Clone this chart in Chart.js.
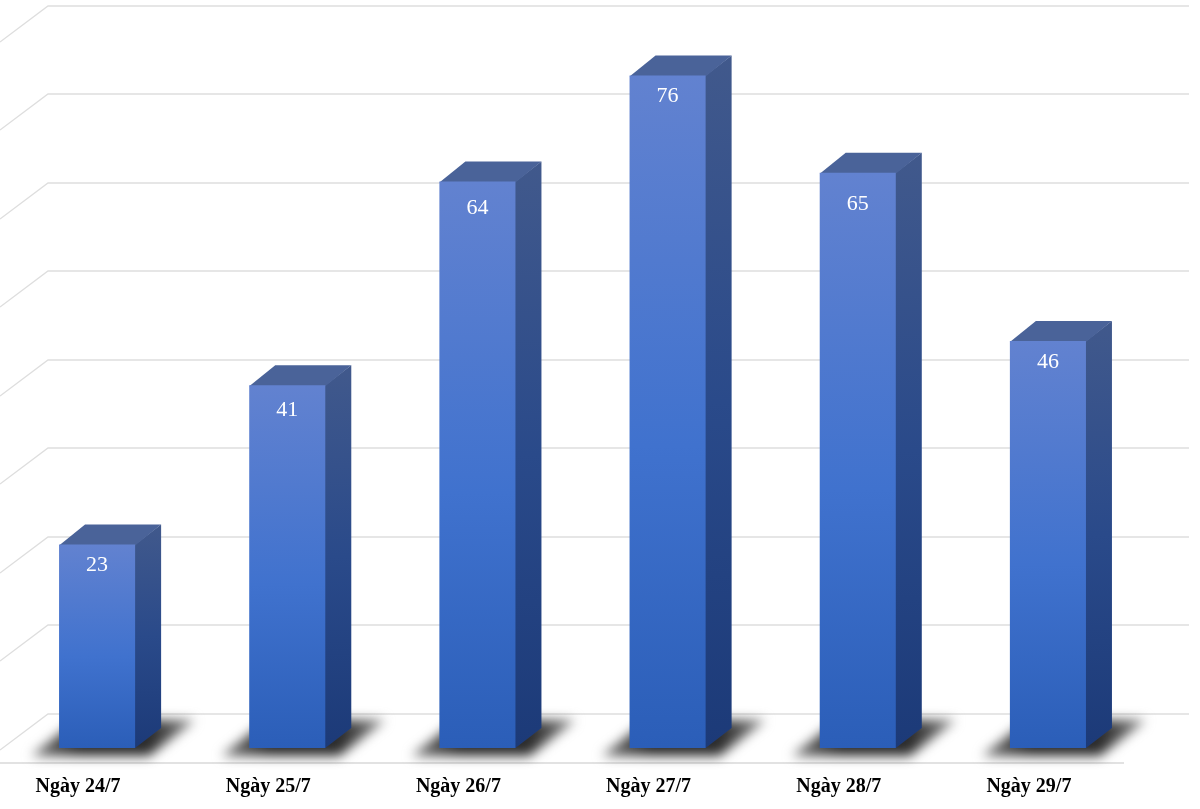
<!DOCTYPE html>
<html>
<head>
<meta charset="utf-8">
<title>Biểu đồ</title>
<script src="https://cdn.jsdelivr.net/npm/chart.js@4"></script>
<style>
    html, body { margin: 0; padding: 0; background: #fff; }
    canvas { display: block; }
</style>
</head>
<body>
<canvas id="chart" width="1200" height="809"></canvas>
<script>
const days = ["Ngày 24/7", "Ngày 25/7", "Ngày 26/7", "Ngày 27/7", "Ngày 28/7", "Ngày 29/7"];
const counts = [23, 41, 64, 76, 65, 46];
const axisMin = 0;
const axisMax = 80;
const axisStep = 10;

// how the fake 3d box sits, in px
const DEPTH_X = 26;
const DEPTH_Y = 20;
const WALL_Y = 34; // back wall is this far above the front of the bars
const labelDrop = [21, 25, 27, 21, 31, 21]; // value label below bar top

const frontFill = (c) => {
    const y = c.chart.scales.y;
    const top = y ? y.getPixelForValue(counts[c.dataIndex]) : NaN;
    const bottom = y ? y.getPixelForValue(0) : NaN;
    // scales have no size yet on the first pass
    if (!Number.isFinite(top) || !Number.isFinite(bottom)) return "#3f70cc";
    const g = c.chart.ctx.createLinearGradient(0, top, 0, bottom);
    g.addColorStop(0, "#6282d0");
    g.addColorStop(0.55, "#4072ce");
    g.addColorStop(1, "#2b5eb8");
    return g;
};

const wallAndBoxes = {
    id: "wallAndBoxes",
    beforeDatasetsDraw(chart) {
        const { ctx } = chart;
        const y = chart.scales.y;
        const bars = chart.getDatasetMeta(0).data;

        // back wall grid with the slanted bit on the left
        ctx.save();
        ctx.strokeStyle = "#dedede";
        ctx.lineWidth = 1.3;
        y.ticks.forEach((t) => {
            const py = Math.floor(y.getPixelForValue(t.value)) - WALL_Y;
            ctx.beginPath();
            ctx.moveTo(0, py + 36);
            ctx.lineTo(48, py);
            ctx.lineTo(1189, py);
            ctx.stroke();
        });
        // front edge of the floor
        ctx.strokeStyle = "#e2e2e2";
        ctx.lineWidth = 2;
        ctx.beginPath();
        ctx.moveTo(0, 763);
        ctx.lineTo(1124, 763);
        ctx.stroke();
        ctx.restore();

        bars.forEach((bar) => {
            const left = bar.x - bar.width / 2;
            const right = bar.x + bar.width / 2;
            const base = bar.base;

            // floor shadow, dark by the bar and fading at both tips
            ctx.save();
            ctx.filter = "blur(6px)";
            const shade = ctx.createLinearGradient(left - 28, 0, right + 60, 0);
            shade.addColorStop(0, "#777");
            shade.addColorStop(0.3, "#2c2c2c");
            shade.addColorStop(0.72, "#2c2c2c");
            shade.addColorStop(1, "#888");
            ctx.fillStyle = shade;
            ctx.beginPath();
            ctx.moveTo(left - 28, base + 8);
            ctx.lineTo(right + 14, base + 8);
            ctx.lineTo(right + 60, base - 28);
            ctx.lineTo(left + 18, base - 28);
            ctx.closePath();
            ctx.fill();
            ctx.restore();

            // right side, tucked a px under the front face
            const side = ctx.createLinearGradient(0, bar.y - DEPTH_Y, 0, base);
            side.addColorStop(0, "#41598c");
            side.addColorStop(0.5, "#2a4a8a");
            side.addColorStop(1, "#1c3a78");
            ctx.fillStyle = side;
            ctx.beginPath();
            ctx.moveTo(right - 1, bar.y);
            ctx.lineTo(right, bar.y);
            ctx.lineTo(right + DEPTH_X, bar.y - DEPTH_Y);
            ctx.lineTo(right + DEPTH_X, base - DEPTH_Y);
            ctx.lineTo(right, base);
            ctx.lineTo(right - 1, base);
            ctx.closePath();
            ctx.fill();

            // top
            ctx.fillStyle = "#4a6399";
            ctx.beginPath();
            ctx.moveTo(left, bar.y + 1);
            ctx.lineTo(left + DEPTH_X, bar.y - DEPTH_Y);
            ctx.lineTo(right + DEPTH_X, bar.y - DEPTH_Y);
            ctx.lineTo(right, bar.y + 1);
            ctx.closePath();
            ctx.fill();
        });
    },
    afterDatasetsDraw(chart) {
        const { ctx } = chart;
        ctx.save();
        ctx.fillStyle = "#fff";
        ctx.font = '22px "Liberation Serif"';
        ctx.textAlign = "center";
        ctx.textBaseline = "middle";
        chart.getDatasetMeta(0).data.forEach((bar, i) => {
            ctx.fillText(counts[i], bar.x, bar.y + labelDrop[i]);
        });
        ctx.restore();
    },
};

const chart = new Chart(document.getElementById("chart").getContext("2d"), {
    type: "bar",
    data: {
        labels: days,
        datasets: [{
            data: counts,
            backgroundColor: frontFill,
            borderWidth: 0,
            categoryPercentage: 1,
            barPercentage: 0.4,
        }],
    },
    options: {
        responsive: false,
        animation: false,
        layout: {
            padding: { left: 2, right: 57, top: 40, bottom: 0 },
        },
        scales: {
            x: {
                grid: { display: false },
                border: { display: false },
                afterFit: (scale) => { scale.height = 61; },
                ticks: {
                    color: "#000",
                    font: { family: '"Liberation Serif"', size: 20, weight: "bold" },
                    maxRotation: 0,
                    autoSkip: false,
                    padding: 19,
                    labelOffset: -19,
                },
            },
            y: {
                display: false,
                min: axisMin,
                max: axisMax,
                ticks: { stepSize: axisStep },
            },
        },
        plugins: {
            legend: { display: false },
            tooltip: { enabled: false },
        },
    },
    plugins: [wallAndBoxes],
});
</script>
</body>
</html>
